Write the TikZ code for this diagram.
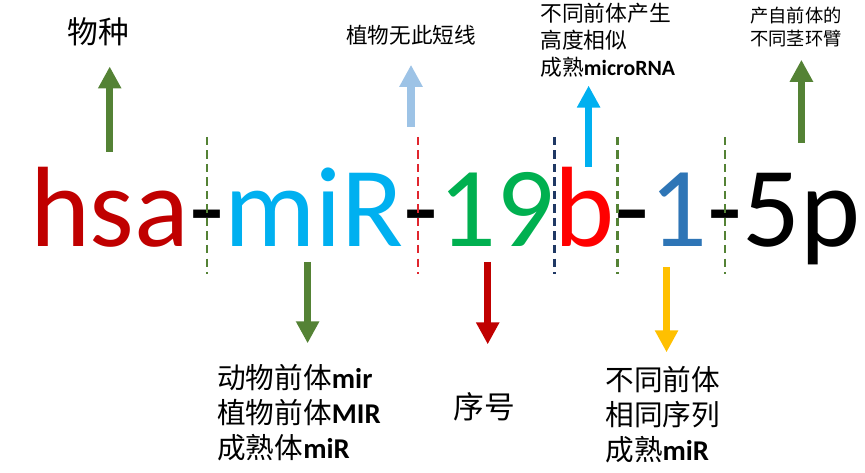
\documentclass[tikz,border=0pt]{standalone}
\usepackage{fontspec}
\usetikzlibrary{arrows.meta,positioning}
\newfontfamily\cjk{Noto Sans CJK SC}
\newfontfamily\carl{Carlito}
\definecolor{hsared}{HTML}{C00000}
\definecolor{mirblue}{HTML}{00B0F0}
\definecolor{numgreen}{HTML}{00B050}
\definecolor{bred}{HTML}{FF0000}
\definecolor{oneblue}{HTML}{2E75B6}
\definecolor{leafgreen}{HTML}{548235}
\definecolor{paleblue}{HTML}{9DC3E6}
\definecolor{gold}{HTML}{FFC000}
\definecolor{navy}{HTML}{1F3864}
\definecolor{dashred}{HTML}{E0262E}
\newcommand{\bl}[1]{{\carl\bfseries #1}}

\begin{document}
\begin{tikzpicture}[
    part/.style={inner sep=0pt, outer sep=0pt, font=\carl\fontsize{65}{65}\selectfont,
                 text height=1.54cm, text depth=0.3cm},
    lab/.style={inner sep=0pt, align=left, font=\cjk\fontsize{16.3}{19.9}\selectfont},
    arr/.style={line width=0.15cm, -{Triangle[length=0.44cm, width=0.44cm]}},
    sep/.style={line width=0.05cm, dash pattern=on 0.17cm off 0.1cm}]
  \useasboundingbox (0,0) rectangle (17.3,9.44);
  % the name, piece by piece
  \node[part, text=hsared, anchor=base west] (hsa) at (0.6,4.5) {hsa};
  \node[part, base right=0pt of hsa] (d1) {-};
  \node[part, text=mirblue, base right=0pt of d1] (mir) {miR};
  \node[part, base right=0pt of mir] (d2) {-};
  \node[part, text=numgreen, base right=0pt of d2] (num) {19};
  \node[part, text=bred, base right=0pt of num] (b) {b};
  \node[part, base right=0pt of b] (d3) {-};
  \node[part, text=oneblue, base right=0pt of d3] (one) {1};
  \node[part, base right=0pt of one] (d4) {-};
  \node[part, base right=0pt of d4] (arm) {5p};
  % dashed separators
  \coordinate (top) at (0,6.70); \coordinate (bot) at (0,3.96);
  \draw[sep, leafgreen] (d1 |- top) -- (d1 |- bot);
  \draw[sep, dashred] ([xshift=-0.07cm]d2 |- top) coordinate (t2) -- ([xshift=-0.07cm]d2 |- bot);
  \draw[sep, navy] (b.west |- top) -- (b.west |- bot);
  \draw[sep, leafgreen] ([xshift=0.06cm]b.east |- top) -- ([xshift=0.06cm]b.east |- bot);
  \draw[sep, leafgreen] (d4 |- top) -- (d4 |- bot);
  % labels
  \node[lab, font=\cjk\fontsize{17.5}{17.5}\selectfont] (species) at (1.96,8.80) {物种};
  \node[lab, font=\cjk\fontsize{12.3}{12.3}\selectfont] (plant) at (8.22,8.74) {植物无此短线};
  \node[lab, font=\cjk\fontsize{12.4}{15.4}\selectfont, anchor=west] (mature) at (10.8,8.64)
    {不同前体产生\\高度相似\\成熟\bl{microRNA}};
  \node[lab, font=\cjk\fontsize{10.4}{13.6}\selectfont, anchor=west] (stem) at (15.0,8.9)
    {产自前体的\\不同茎环臂};
  \node[lab, anchor=west] (prefix) at (4.34,1.18) {动物前体\bl{mir}\\植物前体\bl{MIR}\\成熟体\bl{miR}};
  \node[lab, font=\cjk\fontsize{17.5}{17.5}\selectfont] (index) at (9.68,1.30) {序号};
  \node[lab, anchor=west] (copy) at (12.1,1.14) {不同前体\\相同序列\\成熟\bl{miR}};
  % arrows
  \draw[arr, leafgreen, shorten <=0.36cm, shorten >=0.4cm] (hsa.north) -- (hsa.north |- species.south);
  \draw[arr, paleblue, shorten <=0.2cm, shorten >=0.39cm] (plant.south |- t2) -- (plant.south);
  \draw[arr, mirblue, shorten <=0.06cm, shorten >=0.16cm] ([xshift=0.08cm]b.north) -- ([xshift=0.08cm]b.north |- mature.south);
  \draw[arr, leafgreen, shorten <=0.54cm, shorten >=0.24cm] (arm.north) -- (arm.north |- stem.south);
  \draw[arr, leafgreen, shorten >=0.42cm] ([xshift=-0.13cm]mir.south) -- ([xshift=-0.13cm]mir.south |- prefix.north);
  \draw[arr, hsared, shorten >=0.96cm] ([xshift=-0.18cm]num.south) -- ([xshift=-0.18cm]num.south |- index.north);
  \draw[arr, gold, shorten <=0.1cm, shorten >=0.28cm] ([xshift=-0.24cm]one.south) -- ([xshift=-0.24cm]one.south |- copy.north);
\end{tikzpicture}
\end{document}
